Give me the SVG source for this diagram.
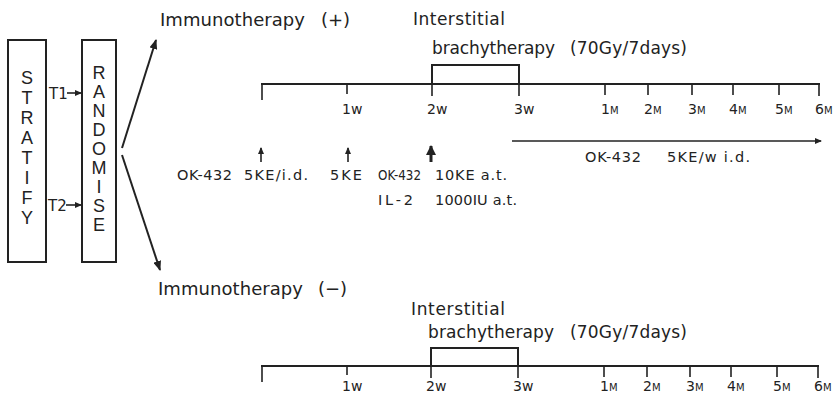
<svg xmlns="http://www.w3.org/2000/svg" width="833" height="393" viewBox="0 0 833 393">
<style>
text{font-family:"DejaVu Sans","Liberation Sans",sans-serif;fill:#222}
.box{fill:none;stroke:#222;stroke-width:2}
.ln{fill:none;stroke:#222;stroke-width:2}
.tk{fill:none;stroke:#222;stroke-width:1.6}
.big{font-size:18px}
.let{font-family:"Liberation Sans","DejaVu Sans",sans-serif;font-size:18px;text-anchor:middle}
.med{font-size:17px}
.sm{font-size:14.5px}
.tl{font-size:14px}
.mm{font-size:10px}
.t12{font-size:15px}
</style>
<defs>
<marker id="ah" markerWidth="10" markerHeight="8" refX="9" refY="4" orient="auto" markerUnits="userSpaceOnUse"><path d="M0,0 L10,4 L0,8 Z" fill="#222"/></marker>
<marker id="ahs" markerWidth="7" markerHeight="6" refX="6" refY="3" orient="auto" markerUnits="userSpaceOnUse"><path d="M0,0 L7,3 L0,6 Z" fill="#222"/></marker>
<marker id="ahb" markerWidth="10" markerHeight="10" refX="9" refY="5" orient="auto" markerUnits="userSpaceOnUse"><path d="M0,0 L10,5 L0,10 Z" fill="#222"/></marker>
</defs>

<g id="stratify">
<rect class="box" x="8" y="40" width="38" height="222"/>
<text class="let" x="27" y="84">S</text>
<text class="let" x="27" y="104">T</text>
<text class="let" x="27" y="124">R</text>
<text class="let" x="27" y="144">A</text>
<text class="let" x="27" y="164">T</text>
<text class="let" x="27" y="184">I</text>
<text class="let" x="27" y="204">F</text>
<text class="let" x="27" y="224">Y</text>
</g>

<g id="randomise">
<rect class="box" x="82" y="40" width="34" height="222"/>
<text class="let" x="99" y="79">R</text>
<text class="let" x="99" y="98">A</text>
<text class="let" x="99" y="117">N</text>
<text class="let" x="99" y="136">D</text>
<text class="let" x="99" y="155">O</text>
<text class="let" x="99" y="174">M</text>
<text class="let" x="99" y="193">I</text>
<text class="let" x="99" y="212">S</text>
<text class="let" x="99" y="231">E</text>
</g>

<g id="labels-t">
<text class="t12" x="49" y="99">T1</text>
<text class="t12" x="48" y="211">T2</text>
</g>

<g id="arm-plus">
<text class="big" x="160" y="26" textLength="145" lengthAdjust="spacing">Immunotherapy</text>
<text class="big" x="321" y="26">(+)</text>
<text class="med" x="413" y="25" textLength="92" lengthAdjust="spacing">Interstitial</text>
<text class="med" x="432" y="54" textLength="123" lengthAdjust="spacing">brachytherapy</text>
<text class="med" x="570" y="54" textLength="117" lengthAdjust="spacing">(70Gy/7days)</text>
<rect class="ln" x="432" y="65" width="87" height="19"/>
<path class="ln" d="M261,84 H820"/>
<path class="tk" d="M262,84 V100 M347,84 V94 M432,84 V96 M519,84 V96 M605,84 V95 M648,84 V95 M692,84 V95 M733,84 V95 M779,84 V95 M819,84 V96"/>
<text class="tl" x="342" y="114">1w</text>
<text class="tl" x="427" y="114">2w</text>
<text class="tl" x="514" y="114">3w</text>
<text class="tl" x="601" y="114">1<tspan class="mm">M</tspan></text>
<text class="tl" x="644" y="114">2<tspan class="mm">M</tspan></text>
<text class="tl" x="688" y="114">3<tspan class="mm">M</tspan></text>
<text class="tl" x="729" y="114">4<tspan class="mm">M</tspan></text>
<text class="tl" x="775" y="114">5<tspan class="mm">M</tspan></text>
<text class="tl" x="815" y="114">6<tspan class="mm">M</tspan></text>
<text class="sm" x="177" y="180" textLength="55" lengthAdjust="spacing">OK-432</text>
<text class="sm" x="244" y="180" textLength="64" lengthAdjust="spacing">5KE/i.d.</text>
<text class="sm" x="330" y="180" textLength="32" lengthAdjust="spacing">5KE</text>
<text class="sm" x="378" y="180" textLength="43" lengthAdjust="spacingAndGlyphs">OK-432</text>
<text class="sm" x="435" y="180" textLength="72" lengthAdjust="spacing">10KE a.t.</text>
<text class="sm" x="378" y="205" textLength="35" lengthAdjust="spacing">IL-2</text>
<text class="sm" x="435" y="205" textLength="82" lengthAdjust="spacing">1000IU a.t.</text>
<text class="sm" x="585" y="162" textLength="56" lengthAdjust="spacing">OK-432</text>
<text class="sm" x="667" y="162" textLength="83" lengthAdjust="spacing">5KE/w i.d.</text>
</g>

<g id="arm-minus">
<text class="big" x="158" y="295" textLength="145" lengthAdjust="spacing">Immunotherapy</text>
<text class="big" x="318" y="295">(−)</text>
<text class="med" x="411" y="315" textLength="94" lengthAdjust="spacing">Interstitial</text>
<text class="med" x="428" y="338" textLength="126" lengthAdjust="spacing">brachytherapy</text>
<text class="med" x="570" y="338" textLength="117" lengthAdjust="spacing">(70Gy/7days)</text>
<rect class="ln" x="431" y="348" width="87" height="18"/>
<path class="ln" d="M261,366 H819"/>
<path class="tk" d="M262,366 V382 M347,366 V375 M431,366 V378 M518,366 V378 M604,366 V377 M647,366 V377 M690,366 V377 M731,366 V377 M777,366 V377 M818,366 V378"/>
<text class="tl" x="342" y="391">1w</text>
<text class="tl" x="426" y="391">2w</text>
<text class="tl" x="513" y="391">3w</text>
<text class="tl" x="600" y="391">1<tspan class="mm">M</tspan></text>
<text class="tl" x="643" y="391">2<tspan class="mm">M</tspan></text>
<text class="tl" x="686" y="391">3<tspan class="mm">M</tspan></text>
<text class="tl" x="727" y="391">4<tspan class="mm">M</tspan></text>
<text class="tl" x="773" y="391">5<tspan class="mm">M</tspan></text>
<text class="tl" x="814" y="391">6<tspan class="mm">M</tspan></text>
</g>

<g id="connectors">
<path class="tk" d="M67,93 H81" marker-end="url(#ahs)"/>
<path class="tk" d="M66,205 H81" marker-end="url(#ahs)"/>
<path class="ln" d="M122,148 L156,40" marker-end="url(#ah)"/>
<path class="ln" d="M122,155 L160,270" marker-end="url(#ah)"/>
<path class="tk" d="M261,162 V148" marker-end="url(#ahs)"/>
<path class="tk" d="M348,162 V148" marker-end="url(#ahs)"/>
<path style="fill:none;stroke:#222;stroke-width:3" d="M431,162 V146" marker-end="url(#ahb)"/>
<path class="tk" d="M512,141 H821" marker-end="url(#ahs)"/>
</g>
</svg>
